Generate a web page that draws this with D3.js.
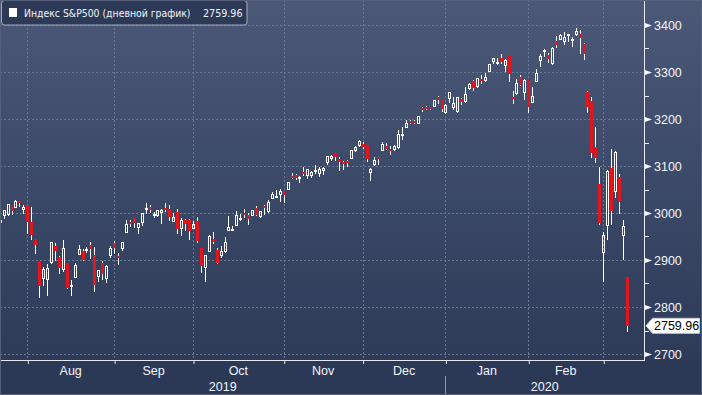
<!DOCTYPE html>
<html><head><meta charset="utf-8">
<script src="https://cdn.jsdelivr.net/npm/d3@7"></script>
<style>html,body{margin:0;padding:0;background:#2b3957;overflow:hidden}svg{display:block}</style>
</head><body><svg id="c" width="702" height="395"></svg>
<script>
const dates = ["2019-07-22","2019-07-23","2019-07-24","2019-07-25","2019-07-26","2019-07-29","2019-07-30","2019-07-31",
"2019-08-01","2019-08-02","2019-08-05","2019-08-06","2019-08-07","2019-08-08","2019-08-09","2019-08-12","2019-08-13","2019-08-14","2019-08-15","2019-08-16","2019-08-19","2019-08-20","2019-08-21","2019-08-22","2019-08-23","2019-08-26","2019-08-27","2019-08-28","2019-08-29","2019-08-30",
"2019-09-03","2019-09-04","2019-09-05","2019-09-06","2019-09-09","2019-09-10","2019-09-11","2019-09-12","2019-09-13","2019-09-16","2019-09-17","2019-09-18","2019-09-19","2019-09-20","2019-09-23","2019-09-24","2019-09-25","2019-09-26","2019-09-27","2019-09-30",
"2019-10-01","2019-10-02","2019-10-03","2019-10-04","2019-10-07","2019-10-08","2019-10-09","2019-10-10","2019-10-11","2019-10-14","2019-10-15","2019-10-16","2019-10-17","2019-10-18","2019-10-21","2019-10-22","2019-10-23","2019-10-24","2019-10-25","2019-10-28","2019-10-29","2019-10-30","2019-10-31",
"2019-11-01","2019-11-04","2019-11-05","2019-11-06","2019-11-07","2019-11-08","2019-11-11","2019-11-12","2019-11-13","2019-11-14","2019-11-15","2019-11-18","2019-11-19","2019-11-20","2019-11-21","2019-11-22","2019-11-25","2019-11-26","2019-11-27","2019-11-29",
"2019-12-02","2019-12-03","2019-12-04","2019-12-05","2019-12-06","2019-12-09","2019-12-10","2019-12-11","2019-12-12","2019-12-13","2019-12-16","2019-12-17","2019-12-18","2019-12-19","2019-12-20","2019-12-23","2019-12-24","2019-12-26","2019-12-27","2019-12-30","2019-12-31",
"2020-01-02","2020-01-03","2020-01-06","2020-01-07","2020-01-08","2020-01-09","2020-01-10","2020-01-13","2020-01-14","2020-01-15","2020-01-16","2020-01-17","2020-01-21","2020-01-22","2020-01-23","2020-01-24","2020-01-27","2020-01-28","2020-01-29","2020-01-30","2020-01-31",
"2020-02-03","2020-02-04","2020-02-05","2020-02-06","2020-02-07","2020-02-10","2020-02-11","2020-02-12","2020-02-13","2020-02-14","2020-02-18","2020-02-19","2020-02-20","2020-02-21","2020-02-24","2020-02-25","2020-02-26","2020-02-27","2020-02-28",
"2020-03-02","2020-03-03","2020-03-04","2020-03-05","2020-03-06","2020-03-09"];

const opens = [2981.9,2994.7,2998.8,3016.3,3013.3,3024.5,3007.7,3016.2,
2980.3,2943.9,2898.1,2861.2,2858.7,2896.2,2930.5,2907.1,2880.7,2894.2,2846.2,2864.7,2913.5,2919.0,2922.0,2930.9,2911.1,2866.7,2893.1,2861.3,2910.4,2937.1,
2909.0,2924.7,2960.6,2980.3,2988.4,2971.0,2981.4,3009.1,3012.2,2996.4,2995.7,3001.5,3010.4,3008.4,2983.5,3002.4,2968.4,2985.7,2985.5,2967.1,
2983.7,2924.8,2885.4,2918.6,2944.2,2920.4,2911.1,2918.6,2963.1,2965.8,2973.6,2989.7,3000.8,2996.8,2996.5,3010.7,2994.0,3014.8,3003.3,3032.1,3035.4,3039.7,3046.9,
3050.7,3079.0,3080.8,3075.1,3087.0,3081.2,3080.3,3089.3,3084.2,3090.8,3107.9,3117.9,3127.5,3114.7,3108.5,3111.4,3117.4,3134.9,3145.5,3147.2,
3143.8,3087.4,3103.5,3119.2,3134.6,3141.9,3135.4,3135.8,3141.2,3166.7,3183.6,3195.4,3195.2,3192.3,3223.3,3226.1,3225.5,3227.2,3247.2,3240.1,3215.2,
3244.7,3226.4,3217.6,3241.9,3238.6,3266.0,3281.0,3271.1,3285.4,3282.3,3303.0,3323.7,3321.0,3330.0,3315.8,3333.1,3247.2,3255.4,3289.5,3256.5,3282.3,
3235.7,3280.6,3324.9,3344.9,3335.5,3318.3,3365.9,3370.5,3365.9,3378.1,3369.0,3380.4,3380.4,3360.5,3257.6,3238.9,3139.9,3062.5,2916.9,
2974.3,3096.5,3045.8,3075.7,2954.2,2863.9];

const highs = [2990.7,3005.9,3019.6,3016.3,3028.0,3025.6,3017.2,3017.4,
3013.6,2945.5,2898.1,2884.4,2892.2,2938.7,2935.8,2907.6,2943.3,2894.2,2856.7,2893.6,2931.0,2923.6,2928.7,2939.1,2927.0,2879.3,2898.8,2890.0,2930.5,2940.4,
2914.4,2938.8,2985.9,2985.0,2989.4,2979.4,3000.9,3020.7,3017.3,3002.2,3006.2,3007.8,3022.0,3016.4,2999.2,3008.0,2989.8,2987.3,2987.3,2983.9,
2992.5,2924.8,2911.1,2953.0,2959.8,2925.5,2929.3,2948.5,2993.3,2972.8,3003.3,2997.5,3008.3,3000.0,3007.3,3014.6,3004.8,3016.1,3027.4,3044.1,3047.9,3050.1,3046.9,
3067.0,3085.2,3084.0,3078.3,3097.8,3093.1,3088.3,3102.6,3098.1,3098.2,3120.5,3124.2,3127.6,3119.0,3110.1,3112.9,3133.8,3142.7,3154.3,3150.3,
3144.3,3095.0,3119.4,3119.4,3150.6,3148.9,3142.1,3144.0,3176.3,3182.7,3197.7,3198.2,3198.5,3205.5,3225.6,3227.8,3226.4,3240.1,3247.9,3240.9,3231.7,
3258.1,3246.2,3246.8,3244.9,3267.1,3275.6,3283.0,3288.1,3294.2,3298.7,3317.1,3329.9,3329.8,3337.8,3326.9,3333.2,3258.9,3285.8,3293.5,3285.9,3282.3,
3268.4,3306.9,3337.6,3348.0,3341.4,3352.3,3375.6,3381.5,3385.1,3380.7,3375.0,3393.5,3389.2,3360.8,3259.8,3247.0,3182.5,3097.1,2959.7,
3091.0,3136.7,3131.0,3083.0,2985.9,2863.9];

const lows = [2976.7,2988.6,2996.8,2997.2,3012.6,3014.5,2999.0,2958.1,
2945.2,2914.1,2822.1,2847.4,2825.7,2894.5,2900.2,2873.1,2877.1,2839.6,2825.5,2864.7,2913.5,2899.6,2917.9,2904.5,2835.0,2856.0,2860.6,2853.1,2905.7,2914.0,
2891.9,2921.9,2960.6,2972.5,2969.4,2957.0,2975.3,3000.9,3002.9,2990.7,2993.7,2978.6,3003.2,2984.7,2982.2,2957.7,2952.9,2963.7,2945.5,2967.1,
2938.7,2874.9,2855.9,2918.6,2935.7,2892.7,2907.4,2917.1,2963.1,2962.9,2973.6,2985.2,2991.8,2976.3,2995.4,2995.0,2991.2,2996.9,3001.9,3032.1,3034.8,3026.0,3023.2,
3050.7,3074.9,3072.2,3065.9,3080.2,3073.6,3075.8,3084.7,3078.8,3083.3,3104.6,3112.1,3113.5,3091.4,3094.6,3099.3,3117.4,3131.0,3143.4,3139.3,
3110.8,3070.3,3102.5,3103.8,3134.6,3135.5,3126.1,3133.2,3138.5,3156.5,3183.6,3191.0,3191.1,3192.3,3216.0,3222.3,3220.5,3227.2,3234.4,3216.6,3212.0,
3235.5,3222.3,3214.6,3232.4,3236.7,3263.7,3260.9,3268.4,3277.2,3280.7,3302.8,3318.9,3316.6,3320.0,3301.9,3281.5,3234.5,3253.2,3271.9,3242.8,3214.7,
3235.7,3280.6,3313.8,3334.4,3322.1,3317.8,3352.7,3369.7,3360.5,3366.2,3355.6,3378.8,3341.0,3328.5,3214.7,3118.8,3109.0,2977.4,2855.8,
2945.2,2976.6,3034.4,2999.8,2901.5,2750.0];

const closes = [2985.0,3005.5,3019.6,3003.7,3025.9,3021.0,3013.2,2980.4,
2953.6,2932.1,2844.7,2881.8,2884.0,2938.1,2918.7,2882.7,2926.3,2840.6,2847.6,2888.7,2923.7,2900.5,2924.4,2923.0,2847.1,2878.4,2869.2,2887.9,2924.6,2926.5,
2906.3,2937.8,2976.0,2978.7,2978.4,2979.4,3000.9,3009.6,3007.4,2998.0,3005.7,3006.7,3006.8,2992.1,2991.8,2966.6,2984.9,2977.6,2961.8,2976.7,
2940.3,2887.6,2910.6,2952.0,2938.8,2893.1,2919.4,2938.1,2970.3,2966.2,2995.7,2989.7,2998.0,2986.2,3006.7,2996.0,3004.5,3010.3,3022.6,3039.4,3036.9,3046.8,3037.6,
3066.9,3078.3,3074.6,3076.8,3085.2,3093.1,3087.0,3091.8,3094.0,3096.6,3120.5,3122.0,3120.2,3108.5,3103.5,3110.3,3133.6,3140.5,3153.6,3141.0,
3113.9,3093.2,3112.8,3117.4,3145.9,3136.0,3132.5,3141.6,3168.6,3168.8,3191.5,3192.5,3191.1,3205.4,3221.2,3224.0,3223.4,3239.9,3240.0,3221.3,3230.8,
3257.9,3234.9,3246.3,3237.2,3253.1,3274.7,3265.4,3288.1,3283.2,3289.3,3316.8,3329.6,3321.0,3321.5,3325.5,3295.5,3243.6,3276.2,3273.4,3283.7,3225.5,
3248.9,3297.6,3334.7,3345.8,3327.7,3352.1,3357.8,3379.5,3373.9,3380.2,3370.3,3386.2,3373.2,3337.8,3225.9,3128.2,3116.4,2978.8,2954.2,
3090.2,3003.4,3130.1,3023.9,2972.4,2759.96];

const yTicks = [2700, 2800, 2900, 3000, 3100, 3200, 3300, 3400];
const yMinorTicks = [2750, 2850, 2950, 3050, 3150, 3250, 3350];
const monthEnds = ["2019-07-31","2019-08-30","2019-09-30","2019-10-31","2019-11-29","2019-12-31","2020-01-31","2020-02-28"];
const monthLabels = ["Aug","Sep","Oct","Nov","Dec","Jan","Feb"];
const yearLabels = ["2019","2020"];
const yearBreak = "2019-12-31";
const legendTitle = "Индекс S&P500 (дневной график)";
const lastValue = "2759.96";

const W = 702, H = 395, plotR = 644, plotB = 360;
const RED = "#e3141c", WHITE = "#ffffff", GRID = "#6a7896";
const svg = d3.select("#c");

const defs = svg.append("defs");
const lg = defs.append("linearGradient").attr("id","bg").attr("x1",0).attr("y1",0).attr("x2",0).attr("y2",1);
lg.append("stop").attr("offset","0%").attr("stop-color","#4b5878");
lg.append("stop").attr("offset","100%").attr("stop-color","#2d3b59");
defs.append("clipPath").attr("id","plotclip").append("rect").attr("x",0).attr("y",0).attr("width",plotR).attr("height",plotB);

svg.append("rect").attr("width",W).attr("height",plotB).attr("fill","url(#bg)");
svg.append("rect").attr("y",plotB).attr("width",W).attr("height",H-plotB).attr("fill","#2b3957");

const x = d3.scalePoint().domain(dates).range([-0.3, 626.9]);
const y = d3.scaleLinear().domain([2700, 3400]).range([354, 25]);
const px = v => Math.round(v);

// grid
const grid = svg.append("g").attr("stroke", GRID).attr("stroke-width",1).attr("stroke-dasharray","2,2");
grid.selectAll("line.h").data(yTicks).join("line").attr("class","h")
  .attr("x1",0).attr("x2",plotR).attr("y1",d=>px(y(d))+0.5).attr("y2",d=>px(y(d))+0.5);
grid.selectAll("line.v").data(monthEnds).join("line").attr("class","v")
  .attr("x1",d=>px(x(d))+0.5).attr("x2",d=>px(x(d))+0.5).attr("y1",0).attr("y2",plotB);

// candles
const data = dates.map((d,i)=>({d, o:opens[i], h:highs[i], l:lows[i], c:closes[i]}));
const cg = svg.append("g").attr("clip-path","url(#plotclip)");
data.forEach(k=>{
  const cx = px(x(k.d));
  const up = k.c >= k.o;
  const yt = px(y(Math.max(k.o,k.c))), yb = px(y(Math.min(k.o,k.c)));
  const yh = px(y(k.h)), yl = px(y(k.l));
  if (up) {
    cg.append("line").attr("x1",cx+0.5).attr("x2",cx+0.5).attr("y1",yh).attr("y2",yt).attr("stroke",WHITE);
    cg.append("line").attr("x1",cx+0.5).attr("x2",cx+0.5).attr("y1",Math.max(yb,yt+1)).attr("y2",yl+1).attr("stroke",WHITE);
    cg.append("rect").attr("x",cx-0.5).attr("y",yt+0.5).attr("width",2).attr("height",Math.max(yb-yt,1))
      .attr("fill","none").attr("stroke",WHITE).attr("stroke-width",1);
  } else {
    cg.append("line").attr("x1",cx+0.5).attr("x2",cx+0.5).attr("y1",yh).attr("y2",yl+1).attr("stroke",WHITE);
    cg.append("rect").attr("x",cx-1).attr("y",yt).attr("width",3).attr("height",Math.max(yb-yt,2)).attr("fill",RED);
  }
});

// axis frame
svg.append("line").attr("x1",plotR+0.5).attr("x2",plotR+0.5).attr("y1",0).attr("y2",plotB+1).attr("stroke","#e6e9ef");
svg.append("line").attr("x1",0).attr("x2",plotR+1).attr("y1",plotB+0.5).attr("y2",plotB+0.5).attr("stroke","#e6e9ef");

// right axis
const ya = svg.append("g").attr("transform",`translate(${plotR},0)`)
  .call(d3.axisRight(y).tickValues(yTicks).tickSize(0).tickPadding(10).tickFormat(d3.format("d")));
ya.select(".domain").remove();
ya.selectAll("text").attr("fill","#f2f4f7").attr("font-family","'Liberation Sans', Arial, sans-serif").attr("font-size","12.5px").attr("dy","0.36em");
ya.selectAll(".tick").append("path").attr("d","M1,-2.5L8,0L1,2.5Z").attr("fill","#f2f4f7");
svg.append("g").selectAll("line").data(yMinorTicks).join("line")
  .attr("x1",plotR+1).attr("x2",plotR+5).attr("y1",d=>px(y(d))+0.5).attr("y2",d=>px(y(d))+0.5).attr("stroke","#e6e9ef");

// bottom axis ticks
const xa = svg.append("g").attr("transform",`translate(0,${plotB})`)
  .call(d3.axisBottom(x).tickValues(monthEnds).tickSize(4).tickFormat(""));
xa.select(".domain").remove();
xa.selectAll(".tick line").attr("stroke","#e6e9ef").attr("transform","translate(0.5,0)");

// month labels
const tf = "'Liberation Sans', Arial, sans-serif";
svg.append("g").selectAll("text").data(monthLabels).join("text")
  .attr("x",(d,i)=>(x(monthEnds[i])+x(monthEnds[i+1]))/2)
  .attr("y",375).attr("text-anchor","middle").attr("fill","#f2f4f7")
  .attr("font-family",tf).attr("font-size","12.5px").text(d=>d);

// year labels
const xb = px(x(yearBreak))+0.5;
svg.append("line").attr("x1",xb).attr("x2",xb).attr("y1",376).attr("y2",H).attr("stroke","#8c96ab");
svg.append("g").selectAll("text").data(yearLabels).join("text")
  .attr("x",(d,i)=> i===0 ? xb/2 : (xb+plotR)/2)
  .attr("y",391).attr("text-anchor","middle").attr("fill","#f2f4f7")
  .attr("font-family",tf).attr("font-size","12.5px").text(d=>d);

// last price tag
const ly = y(closes[closes.length-1]);
svg.append("path").attr("d",`M646,${ly}L652.5,${ly-7.5}L699.5,${ly-7.5}L699.5,${ly+7.5}L652.5,${ly+7.5}Z`)
  .attr("fill","#ffffff").attr("stroke","#c8ccd4").attr("stroke-width",1);
svg.append("text").attr("x",654).attr("y",ly+4.5).attr("fill","#000").attr("font-family",tf).attr("font-size","12.5px").text(lastValue);

// legend
svg.append("rect").attr("x",1.5).attr("y",0.5).attr("width",245.5).attr("height",24.5).attr("rx",3)
  .attr("fill","#2c3a57").attr("stroke","#a3abbb").attr("stroke-width",1);
svg.append("rect").attr("x",9).attr("y",8).attr("width",8).attr("height",9).attr("fill","#ffffff");
const lf = "'DejaVu Sans Condensed','DejaVu Sans',sans-serif";
svg.append("text").attr("x",24).attr("y",16.5).attr("fill","#f2f4f7").attr("font-family",lf).attr("font-size","10.5px")
  .attr("textLength",166.5).attr("lengthAdjust","spacingAndGlyphs").text(legendTitle);
svg.append("text").attr("x",203).attr("y",16.5).attr("fill","#f2f4f7").attr("font-family",lf).attr("font-size","10.5px")
  .attr("textLength",39.5).attr("lengthAdjust","spacingAndGlyphs").text(lastValue);

// outer border
svg.append("rect").attr("x",0.5).attr("y",0.5).attr("width",W-1).attr("height",H-1).attr("fill","none").attr("stroke","#56607a");
</script>
</body></html>
